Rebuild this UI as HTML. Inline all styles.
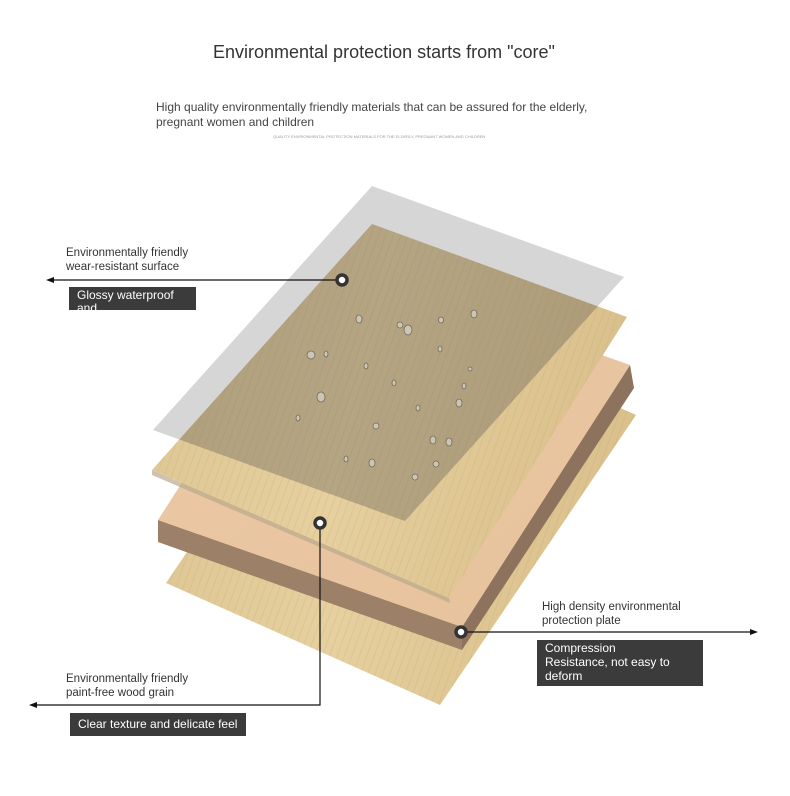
<!DOCTYPE html>
<html><head><meta charset="utf-8"><style>
body{margin:0;background:#fff;width:790px;height:796px;overflow:hidden;font-family:"Liberation Sans",sans-serif;position:relative}
.t{position:absolute;color:#333;white-space:nowrap}
.box{position:absolute;background:#3b3b3b;color:#fff;font-size:12px;line-height:13px;overflow:hidden;box-sizing:border-box;padding:2px 8px}
</style></head><body>
<div class="t" style="left:213px;top:42px;font-size:18px;color:#333">Environmental protection starts from "core"</div>
<div class="t" style="left:156px;top:100px;font-size:12px;line-height:15px;color:#444">High quality environmentally friendly materials that can be assured for the elderly,<br>pregnant women and children</div>
<div class="t" style="left:273px;top:134px;font-size:4px;color:#999">QUALITY ENVIRONMENTAL PROTECTION MATERIALS FOR THE ELDERLY, PREGNANT WOMEN AND CHILDREN</div>

<svg width="790" height="796" style="position:absolute;left:0;top:0">
<defs>
<linearGradient id="wood" x1="0" y1="0" x2="1" y2="0.2">
<stop offset="0" stop-color="#dcc592"/><stop offset="0.5" stop-color="#e6d09f"/><stop offset="1" stop-color="#dac08c"/></linearGradient>
<linearGradient id="mdf" x1="0" y1="0" x2="1" y2="1">
<stop offset="0" stop-color="#ecc9a6"/><stop offset="1" stop-color="#e6c29c"/></linearGradient>
<pattern id="grain" width="7" height="40" patternUnits="userSpaceOnUse" patternTransform="rotate(20)">
<line x1="2" y1="0" x2="2" y2="40" stroke="#c4a56f" stroke-width="1" opacity="0.25"/></pattern>
<clipPath id="wc"><polygon points="372,224 627,317 449,598 152,470"/></clipPath>
</defs>
<polygon points="362,293 636,415 440,705 166,583" fill="url(#wood)"/>
<polygon points="362,293 636,415 440,705 166,583" fill="url(#grain)"/>
<polygon points="158,520 462,627 462,650 158,542" fill="#9c8068"/>
<polygon points="462,627 630,365 634,388 462,650" fill="#8d725d"/>
<polygon points="326,258 630,365 462,627 158,520" fill="url(#mdf)"/>
<polygon points="372,186 624,277 405,521 153,430" fill="#d6d6d6"/>
<polygon points="152,470 449,598 450,603 152,475" fill="#b8a98c" opacity="0.7"/>
<polygon points="372,224 627,317 449,598 152,470" fill="url(#wood)"/>
<polygon points="372,224 627,317 449,598 152,470" fill="url(#grain)"/>
<g clip-path="url(#wc)">
<polygon points="372,186 624,277 405,521 153,430" fill="#6f695c" opacity="0.42"/>
</g>
<g fill="#cfcabd" stroke="#6d6553" stroke-width="0.8" opacity="0.9">
<ellipse cx="408" cy="330" rx="4" ry="5"/><ellipse cx="400" cy="325" rx="3" ry="3"/><ellipse cx="359" cy="319" rx="3" ry="4"/>
<ellipse cx="474" cy="314" rx="3" ry="4"/><ellipse cx="441" cy="320" rx="2.5" ry="3"/><ellipse cx="311" cy="355" rx="4" ry="4"/>
<ellipse cx="326" cy="354" rx="2" ry="3"/><ellipse cx="366" cy="366" rx="2" ry="3"/><ellipse cx="321" cy="397" rx="4" ry="5"/>
<ellipse cx="418" cy="408" rx="2" ry="3"/><ellipse cx="464" cy="386" rx="2" ry="3"/><ellipse cx="459" cy="403" rx="3" ry="4"/>
<ellipse cx="376" cy="426" rx="3" ry="3"/><ellipse cx="433" cy="440" rx="3" ry="4"/><ellipse cx="449" cy="442" rx="3" ry="4"/>
<ellipse cx="372" cy="463" rx="3" ry="4"/><ellipse cx="415" cy="477" rx="3" ry="3"/><ellipse cx="436" cy="464" rx="3" ry="3"/>
<ellipse cx="346" cy="459" rx="2" ry="3"/><ellipse cx="298" cy="418" rx="2" ry="3"/><ellipse cx="440" cy="349" rx="2" ry="3"/>
<ellipse cx="470" cy="369" rx="2" ry="2"/><ellipse cx="394" cy="383" rx="2" ry="3"/>
</g>
<g stroke="#111" stroke-width="1.2" fill="none">
<line x1="52" y1="280" x2="342" y2="280"/>
<polyline points="320,523 320,705 35,705"/>
<line x1="461" y1="632" x2="752" y2="632"/>
</g>
<polygon points="46,280 54,277 54,283" fill="#111"/>
<polygon points="29,705 37,702 37,708" fill="#111"/>
<polygon points="758,632 750,629 750,635" fill="#111"/>
<g fill="#fff" stroke="#333" stroke-width="3.5">
<circle cx="342" cy="280" r="5"/><circle cx="320" cy="523" r="5"/><circle cx="461" cy="632" r="5"/>
</g>
</svg>

<div class="t" style="left:66px;top:246px;font-size:11.5px;line-height:14px">Environmentally friendly<br>wear-resistant surface</div>
<div class="box" style="left:69px;top:287px;width:127px;height:23px;padding-top:2px">Glossy waterproof<br>and</div>
<div class="t" style="left:66px;top:672px;font-size:11.5px;line-height:14px">Environmentally friendly<br>paint-free wood grain</div>
<div class="box" style="left:70px;top:713px;width:176px;height:23px;padding-top:5px">Clear texture and delicate feel</div>
<div class="t" style="left:542px;top:600px;font-size:11.5px;line-height:14px">High density environmental<br>protection plate</div>
<div class="box" style="left:537px;top:640px;width:166px;height:46px;padding-top:1px;line-height:14px">Compression<br>Resistance, not easy to<br>deform</div>
</body></html>
